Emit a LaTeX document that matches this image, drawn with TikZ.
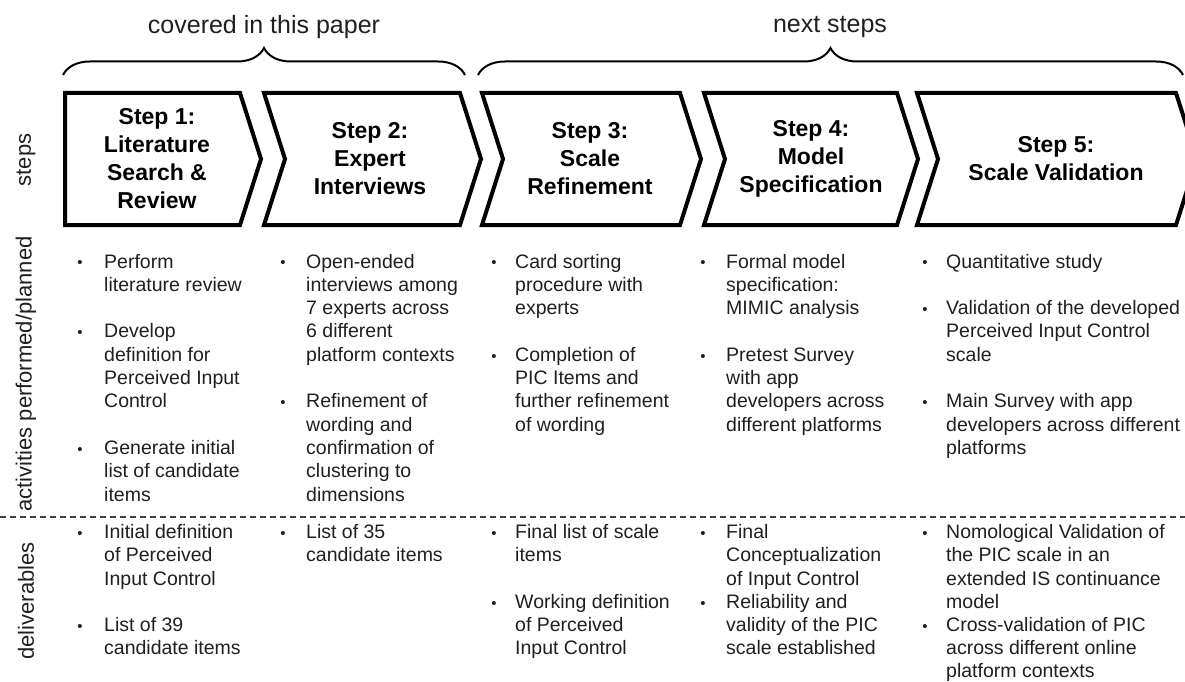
\documentclass[tikz,border=0pt]{standalone}
\usepackage{fontspec}
\setmainfont{Liberation Sans}
\usetikzlibrary{decorations.pathreplacing}
\newcommand\myBody{\fontsize{19.5}{23.3}\selectfont}
\newcommand\myBodyD{\fontsize{19.5}{23.1}\selectfont}
\newcommand\myTitle{\fontsize{23}{28}\selectfont\bfseries}
\newcommand\myTop{\fontsize{25}{30}\selectfont}
\newcommand\mySide{\fontsize{22}{26}\selectfont}
\begin{document}
\begin{tikzpicture}[x=1pt,y=-1pt,
  chev/.style={draw=black,line width=4pt,line join=miter,miter limit=10},
  ttl/.style={align=center,font=\myTitle,inner sep=0pt},
  itm/.style={anchor=north west,inner sep=0pt,align=left,font=\myBody,text=black!88,yshift=10.5pt},
  itmd/.style={itm,font=\myBodyD},
  bul/.style={inner sep=0pt,anchor=base,yshift=-5.8pt,text=black!88,font=\fontsize{15}{15}\selectfont},
  toplbl/.style={font=\myTop,inner sep=0pt,text=black!88},
  sidelbl/.style={font=\mySide,inner sep=0pt,rotate=90,text=black!88},
  brc/.style={decorate,decoration={brace,amplitude=27pt},line width=2pt},
  sepline/.style={dash pattern=on 6pt off 4pt,line width=1.2pt,draw=black!75}]
\useasboundingbox (0,0) rectangle (1185,682);
\clip (0,0) rectangle (1185,682);

% braces and their labels
\coordinate (b1s) at (63,75);  \coordinate (b1e) at (465,75);
\coordinate (b2s) at (478,75); \coordinate (b2e) at (1183,75);
\draw[brc] (b1s) -- (b1e);
\draw[brc] (b2s) -- (b2e);
\node[toplbl] (covered) at (264,27) {covered in this paper};
\node[toplbl] (next) at (830,27) {next steps};

% chevrons
\draw[chev] (65,93) -- (240,93) -- (261,159) -- (240,225) -- (65,225) -- cycle;
\draw[chev] (264,93) -- (460,93) -- (481,159) -- (460,225) -- (264,225) -- (285,159) -- cycle;
\draw[chev] (482,93) -- (680,93) -- (701,159) -- (680,225) -- (482,225) -- (503,159) -- cycle;
\draw[chev] (704,93) -- (897,93) -- (918,159) -- (897,225) -- (704,225) -- (725,159) -- cycle;
\draw[chev] (917,93) -- (1176,93) -- (1197,159) -- (1176,225) -- (917,225) -- (938,159) -- cycle;

\node[ttl] (s1) at (157,159) {Step 1:\\Literature\\Search \&\\Review};
\node[ttl] (s2) at (370,159) {Step 2:\\Expert\\Interviews};
\node[ttl] (s3) at (590,159) {Step 3:\\Scale\\Refinement};
\node[ttl] (s4) at (811,159) {Step 4:\\Model\\Specification};
\node[ttl] (s5) at (1056,159) {Step 5:\\Scale Validation};

% side labels
\node[sidelbl] (lsteps) at (26,160) {steps};
\node[sidelbl] (lact) at (26,374) {activities performed/planned};
\node[sidelbl] (ldel) at (26,601) {deliverables};

% separator
\coordinate (sepl) at (0,517); \coordinate (sepr) at (1185,517);
\draw[sepline] (sepl) -- (sepr);

% activities
\node[bul] (ba11) at (80,262) {\textbullet};
\node[itm] (a11) at (104,262) {\strut Perform\\literature review};
\node[bul] (ba12) at (80,331.9) {\textbullet};
\node[itm] (a12) at (104,331.9) {\strut Develop\\definition for\\Perceived Input\\Control};
\node[bul] (ba13) at (80,448.4) {\textbullet};
\node[itm] (a13) at (104,448.4) {\strut Generate initial\\list of candidate\\items};

\node[bul] (ba21) at (283,262) {\textbullet};
\node[itm] (a21) at (306,262) {\strut Open-ended\\interviews among\\7 experts across\\6 different\\platform contexts};
\node[bul] (ba22) at (283,401.8) {\textbullet};
\node[itm] (a22) at (306,401.8) {\strut Refinement of\\wording and\\confirmation of\\clustering to\\dimensions};

\node[bul] (ba31) at (494,262) {\textbullet};
\node[itm] (a31) at (515,262) {\strut Card sorting\\procedure with\\experts};
\node[bul] (ba32) at (494,355.2) {\textbullet};
\node[itm] (a32) at (515,355.2) {\strut Completion of\\PIC Items and\\further refinement\\of wording};

\node[bul] (ba41) at (703,262) {\textbullet};
\node[itm] (a41) at (726,262) {\strut Formal model\\specification:\\MIMIC analysis};
\node[bul] (ba42) at (703,355.2) {\textbullet};
\node[itm] (a42) at (726,355.2) {\strut Pretest Survey\\with app\\developers across\\different platforms};

\node[bul] (ba51) at (925,262) {\textbullet};
\node[itm] (a51) at (946,262) {\strut Quantitative study};
\node[bul] (ba52) at (925,308.6) {\textbullet};
\node[itm] (a52) at (946,308.6) {\strut Validation of the developed\\Perceived Input Control\\scale};
\node[bul] (ba53) at (925,401.8) {\textbullet};
\node[itm] (a53) at (946,401.8) {\strut Main Survey with app\\developers across different\\platforms};

% deliverables
\node[bul] (bd11) at (80,533) {\textbullet};
\node[itmd] (d11) at (104,533) {\strut Initial definition\\of Perceived\\Input Control};
\node[bul] (bd12) at (80,625.4) {\textbullet};
\node[itmd] (d12) at (104,625.4) {\strut List of 39\\candidate items};

\node[bul] (bd21) at (283,533) {\textbullet};
\node[itmd] (d21) at (306,533) {\strut List of 35\\candidate items};

\node[bul] (bd31) at (494,533) {\textbullet};
\node[itmd] (d31) at (515,533) {\strut Final list of scale\\items};
\node[bul] (bd32) at (494,602.3) {\textbullet};
\node[itmd] (d32) at (515,602.3) {\strut Working definition\\of Perceived\\Input Control};

\node[bul] (bd41) at (703,533) {\textbullet};
\node[itmd] (d41) at (726,533) {\strut Final\\Conceptualization\\of Input Control};
\node[bul] (bd42) at (703,602.3) {\textbullet};
\node[itmd] (d42) at (726,602.3) {\strut Reliability and\\validity of the PIC\\scale established};

\node[bul] (bd51) at (925,533) {\textbullet};
\node[itmd] (d51) at (946,533) {\strut Nomological Validation of\\the PIC scale in an\\extended IS continuance\\model};
\node[bul] (bd52) at (925,625.4) {\textbullet};
\node[itmd] (d52) at (946,625.4) {\strut Cross-validation of PIC\\across different online\\platform contexts};
\end{tikzpicture}
\end{document}
